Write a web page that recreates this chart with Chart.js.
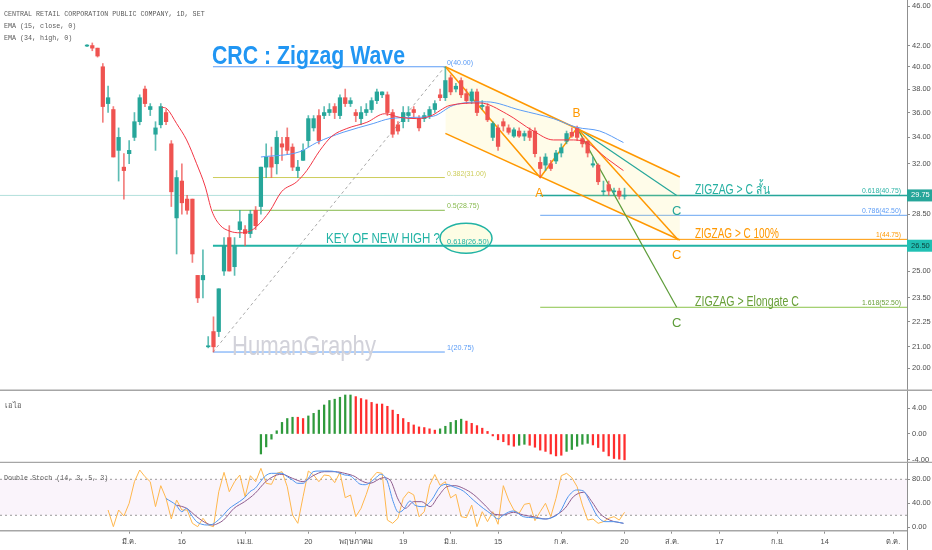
<!DOCTYPE html>
<html>
<head>
<meta charset="utf-8">
<title>CRC : Zigzag Wave</title>
<script src="https://cdn.jsdelivr.net/npm/chart.js@4.4.1/dist/chart.umd.min.js"></script>
<style>
  html, body { margin: 0; padding: 0; background: #fff; }
  #wrap { position: relative; width: 932px; height: 550px; overflow: hidden; }
  .pane { position: absolute; left: 0; width: 932px; }
</style>
</head>
<body>
<div id="wrap">
  <div class="pane" style="top:0;height:391px"><canvas id="mainChart"></canvas></div>
  <div class="pane" style="top:391px;height:72px"><canvas id="aoChart"></canvas></div>
  <div class="pane" style="top:463px;height:87px"><canvas id="stochChart"></canvas></div>
</div>
<script>
// ---------- values ----------
// one index per trading session, 0 = first bar on the left
const opens = [41.95,42.0,41.75,40.0,36.75,36.25,33.0,31.75,32.75,34.0,
  35.25,38.0,36.25,34.25,35.0,36.0,33.5,28.25,30.75,29.5,
  29.5,24.75,24.5,21.0,21.75,21.75,25.0,27.0,25.25,27.5,
  27.5,27.25,28.75,29.0,31.75,32.5,32.0,33.5,34.0,33.25,
  31.5,32.25,33.75,34.75,35.75,35.75,36.0,36.5,35.75,37.25,
  36.75,36.0,35.5,36.0,36.25,37.0,37.5,37.5,36.0,35.0,
  35.25,35.75,36.25,35.5,35.5,35.75,36.25,37.5,37.25,39.0,
  38.0,38.75,37.6,37.0,37.75,36.5,36.5,34.0,34.75,35.25,
  34.75,34.1,34.5,34.1,34.5,34.5,32.1,31.9,32.0,32.2,
  32.8,33.7,34.4,34.75,33.9,33.7,31.9,31.9,30.0,30.5,
  30.0,30.05,29.7];
const highs = [42.1,42.25,41.75,40.3,38.25,36.5,34.75,32.75,33.75,36.0,
  37.5,38.25,36.75,35.25,36.75,36.25,33.75,31.5,32.0,29.75,
  29.5,24.75,26.25,21.5,22.5,24.0,27.0,27.75,27.0,28.75,
  27.75,28.75,29.0,31.75,33.5,33.25,34.5,34.0,34.75,33.5,
  32.25,33.5,35.75,35.75,36.25,36.5,36.75,36.75,37.5,38.0,
  37.25,36.25,36.5,36.75,37.25,38.0,37.75,37.75,36.25,35.25,
  36.5,36.5,36.5,35.75,36.0,36.5,37.0,38.0,40.0,39.25,
  38.5,39.0,38.0,38.0,38.0,37.0,36.75,35.25,35.0,35.5,
  35.0,34.75,34.75,34.5,34.75,34.75,32.5,32.75,32.25,33.0,
  33.5,34.5,34.75,34.9,34.0,33.75,32.5,32.0,30.75,30.75,
  30.25,30.25,30.25];
const lows = [41.9,41.5,40.9,35.2,36.0,32.5,30.75,29.5,32.0,33.75,
  35.0,36.5,35.75,33.0,34.75,35.0,29.0,26.0,28.5,28.5,
  25.5,23.25,23.5,20.95,20.75,21.5,24.75,25.0,24.75,27.0,
  26.5,27.0,27.5,28.5,31.0,31.0,31.25,32.25,32.75,31.5,
  31.0,32.25,33.25,34.5,33.5,35.5,35.75,35.5,35.5,36.5,
  36.5,35.25,35.0,35.75,36.0,36.75,37.25,35.75,34.0,34.25,
  34.75,35.25,35.5,34.5,35.25,35.5,36.0,37.0,37.0,37.5,
  37.75,37.25,36.75,36.75,35.75,36.25,35.25,33.75,33.0,34.5,
  34.25,34.0,34.0,33.75,33.75,32.5,31.0,31.5,31.5,32.0,
  32.5,33.5,34.0,33.75,33.25,32.5,31.75,30.5,29.75,29.75,
  29.75,29.5,29.5];
const closes = [42.0,41.75,41.0,36.5,37.25,32.5,34.0,31.5,33.0,35.25,
  37.25,36.75,36.5,34.75,36.5,35.25,30.0,31.0,29.25,28.75,
  26.0,23.5,24.75,21.05,21.0,24.0,26.5,25.0,26.5,28.0,
  27.25,28.5,27.75,31.75,32.5,31.75,34.0,33.25,33.0,31.75,
  31.75,33.0,35.5,35.5,33.75,36.0,36.25,36.0,37.25,36.75,
  37.0,35.75,36.0,36.25,37.0,37.75,37.75,36.0,34.25,34.5,
  36.0,36.0,36.0,34.75,35.75,36.25,36.75,37.25,38.75,37.75,
  38.25,37.5,37.0,37.75,36.0,36.6,35.4,35.1,33.3,34.9,
  34.4,34.6,34.1,34.3,34.0,32.75,31.65,32.5,31.65,32.8,
  33.2,34.3,34.1,34.0,33.5,32.8,32.0,30.7,30.05,30.05,
  30.05,29.7,29.75];

// EMA (15, close) and EMA (34, high), sampled along the drawn lines
const ema15Idx = [14.2,15.2,17,18.9,20.8,22.4,23.7,25.2,27.1,29,30.9,32.2,34.7,36.9,39.8,41.7,44.2,46.5,49.3,53.1,
  56.5,59.4,62.6,65.1,68.9,74.6,79.6,84.7,88.5,92.3,94.8,98.6,101.8];
const ema15Val = [36.45,36.3,35.1,33.8,32.0,30.4,28.7,27.8,27.4,27.3,27.4,27.7,28.7,30.0,30.7,31.5,33.0,34.1,34.7,35.2,
  35.9,35.6,35.5,35.7,36.6,36.8,35.9,34.5,33.8,33.8,33.6,32.4,31.5];
const ema34Idx = [33,40.4,43.6,48.6,54.3,57.5,61.9,65.7,69.5,75.8,82.2,88.5,92.9,97.3,101.8];
const ema34Val = [32.5,32.9,33.6,34.4,35.1,35.5,35.6,35.7,36.6,36.9,36.2,35.5,34.8,34.5,33.6];

// histogram pane ("เอไอ"), first bar at index 33
const aoStart = 33;
const aoVals = [-3.1,-2.0,-0.8,0.5,1.8,2.4,2.6,2.6,2.4,2.8,
  3.2,3.7,4.5,5.2,5.4,5.7,6.05,6.05,5.8,5.5,
  5.3,4.9,4.65,4.65,4.3,3.7,3.05,2.4,1.8,1.4,
  1.1,1.0,0.8,0.6,0.8,1.2,1.8,2.1,2.3,2.0,
  1.65,1.3,0.9,0.4,-0.3,-0.9,-1.2,-1.7,-1.9,-1.75,
  -1.6,-1.75,-2.05,-2.5,-2.7,-3.1,-3.4,-3.3,-2.7,-2.4,
  -1.9,-1.6,-1.45,-1.7,-2.1,-2.7,-3.4,-3.8,-3.9,-4.0];
const aoGreen = [1,1,1,1,1,1,1,0,0,1, 1,1,1,1,1,1,1,1,0,0,
  0,0,0,0,0,0,0,0,0,0, 0,0,0,0,1,1,1,1,1,0,
  0,0,0,0,0,0,0,0,0,1, 1,0,0,0,0,0,0,0,1,1,
  1,1,1,0,0,0,0,0,0,0];

// Double Stoch (14, 3, 5, 3)
const stochStart = 4;
const stochRaw = [28.8,1,28.8,18.8,40,76,95.5,84.4,76,34.4,
  69.4,48.3,13.8,45.5,28.8,28.8,6.6,1,15,3.8,
  1,59.3,91.6,59.3,76,87.2,51,86,76,98.3,
  73.3,71.6,90,92.7,67.7,20.5,6.6,51,93.8,87.2,
  76,87.2,86,74.4,91.6,49.4,53.8,17.7,31.6,55,
  81.6,91.6,90,12,6.6,15,48,59,54,17.7,
  26,70,88,70,76,49,55,17.7,16,37,
  1,26,9.4,26,5,69.4,45.5,28.8,23.3,38.3,
  40,11,26,40,17.7,48.3,86,90,82.7,67.7,
  37,12,13.8,6.6,9.4,15,17.7,12,25];
const stochFastIdx = [15,16.9,18,18.9,19.8,20.8,21.8,22.8,23.8,24.9,25.9,26.9,27.9,28.9,29.9,30.9,31.9,32.9,33.9,35,
  36,37,38,39,40,41,42,42.9,44,45,46,47.1,48,48.9,49.9,50.9,51.8,52.8,54.7,55.7,
  56.9,58.1,59.1,60,61.3,62.2,63.8,65.4,67,68.3,69.5,71.4,73.3,75.2,76.8,78.05,79,80.9,82.8,84.7,
  86.6,88.2,89.7,91.3,92.9,94.2,95.4,96.7,98.3,99.9,101.8];
const stochFastVal = [48,37,26,31.6,20.5,9.4,5,3.8,5,12,20.5,30.5,37,42.7,49.4,59.3,65,76,86,90,
  90,90,84.4,78.8,73.3,73.3,81.6,92.7,93.8,93.8,93.8,92.7,90,87.2,86,78.8,72,71,81.6,88.3,
  78.8,42.7,25,28.8,43.8,37,34.4,45.5,67.7,71.6,67.7,60.5,45.5,31.6,21.6,13.8,20.5,27.2,17.7,16,
  13.8,16,25,51,62.2,60.5,42.7,20.5,9.4,9.4,6.6];
const stochSlowIdx = [17,18.9,20.8,22.7,23.9,24.9,25.9,27.9,29.9,31.9,33.9,36,37,39,41,42.9,45,47.1,48.9,50.9,
  51.8,53.7,56.2,57.5,59.1,60.4,62,63.5,65.1,66.6,68.3,69.8,71.4,73.3,75.5,77.4,79,80.9,82.8,84.7,
  87.1,88.8,90.7,92.3,94.2,95.8,97.3,99.2,101.8];
const stochSlowVal = [37,31.6,17.7,6.6,3.8,6.6,12,31.6,42.7,56.6,76,87.2,88.3,81.6,76,86,92.7,92.7,90,84.4,
  78.8,73.3,82.7,78.8,45.5,31.6,42.7,42.7,34.4,51,67.7,69.4,65,55,37,21.6,20.5,25,20.5,17.7,
  13.8,19.4,31.6,51,58.3,42.7,23.3,12,6.6];

// axes
const dateTicks = [8,18,30,42,51,60,69,78,90,102,111,120,131,140,153];
const dateLabels = ['มี.ค.','16','เม.ย.','20','พฤษภาคม','19','มิ.ย.','15','ก.ค.','20','ส.ค.','17','ก.ย.','14','ต.ค.'];
const priceTicks = [20,21,22.25,23.5,25,28.5,32,34,36,38,40,42,46];
const aoTicks = [-4,0,4];
const stochTicks = [0,40,80];
const lastClose = 29.75;
const keyLevel = 26.5;

// ---------- drawings on the price pane (index, price) ----------
const fibLeftLevels = [40.0,31.0,28.75,20.75];
const fibLeftNames = ['0(40.00)','0.382(31.00)','0.5(28.75)','1(20.75)'];
const fibLeftColors = ['#5b9cf6','#cdcd5a','#86b94c','#5b9cf6'];
const fibRightLevels = [29.75,28.42,26.89,23.0];
const fibRightNames = ['0.618(40.75)','0.786(42.50)','1(44.75)','1.618(52.50)'];
const fibRightColors = ['#26a69a','#6aa5f2','#ff9800','#8bc34a'];
const fibRightText = ['#2bb3a5','#5b9cf6','#ff9800','#689f38'];
const zigzag = [[68,40.0],[86,31.0],[93,34.75]];
const channelUpper = [[68,40.0],[112.5,31.04]];
const channelLower = [[68,34.32],[112.5,26.85]];
const legTeal = [[93,34.75],[111.9,29.75]];
const legOrange = [[93,34.75],[112.2,26.85]];
const legGreen = [[93,34.75],[111.9,23.0]];
const swingDiag = [[23.9,20.75],[67.9,40.0]];
const keyEllipse = [71.92,26.96];

const xMin = -16.51, xMax = 155.6;
const TEAL = '#26a69a', RED = '#ef5350', AXIS = '#8f8f8f', SEP = '#a6a6a6';
const LBL = "'Liberation Sans', 'DejaVu Sans', sans-serif";
const MONO = "'Liberation Mono', 'DejaVu Sans Mono', monospace";

Chart.defaults.font.family = LBL;

const notes = [
  {text:'CRC : Zigzag Wave', i:23.72, p:40.26, color:'#2196f3', size:26, width:193, weight:'600'},
  {text:'HumanGraphy', i:27.51, p:20.61, color:'#d2d2da', size:28, width:144},
  {text:'KEY OF NEW HIGH ?', i:45.35, p:26.67, color:'#22b3a5', size:14, width:114},
  {text:'0.618(26.50)', i:68.31, p:26.5, dy:-2, color:'#22b3a5', size:8, width:42},
  {text:'ZIGZAG > C สั้น', i:115.37, p:29.75, dy:-1, color:'#26b0a2', size:14, width:75},
  {text:'ZIGZAG > C 100%', i:115.37, p:26.89, dy:-1, color:'#ff9800', size:14, width:84},
  {text:'ZIGZAG > Elongate C', i:115.37, p:23.0, dy:-1, color:'#689f38', size:14, width:104},
  {text:'C', i:111.9, p:28.7, color:'#26a69a', size:13, align:'center', base:'middle'},
  {text:'C', i:111.9, p:25.94, color:'#ff9800', size:13, align:'center', base:'middle'},
  {text:'C', i:111.9, p:22.18, color:'#5d9c39', size:13, align:'center', base:'middle'},
  {text:'A', i:85.83, p:29.85, color:'#ff9800', size:12, align:'center', base:'middle'},
  {text:'B', i:92.88, p:35.88, color:'#ff9800', size:12, align:'center', base:'middle'}
];
const leftWidths = [26,39,32,27];
fibLeftLevels.forEach((lv, k) => notes.push({text:fibLeftNames[k], i:68.31, p:lv, dy:-2, color:fibLeftColors[k], size:8, width:leftWidths[k]}));
const rightWidths = [39,39,25,39];
fibRightLevels.forEach((lv, k) => notes.push({text:fibRightNames[k], i:154.46, p:lv, dy:-2, color:fibRightText[k], size:8, width:rightWidths[k], align:'right'}));

function drawNote(ctx, n, px, py) {
  ctx.save();
  ctx.font = (n.weight || '400') + ' ' + n.size + 'px ' + (n.family || LBL);
  ctx.fillStyle = n.color;
  ctx.textAlign = n.align || 'left';
  ctx.textBaseline = n.base || 'alphabetic';
  const w = ctx.measureText(n.text).width;
  ctx.translate(px, py);
  if (n.width) ctx.scale(n.width / w, 1);
  ctx.fillText(n.text, 0, 0);
  ctx.restore();
}

function seg(points, color, width, order, extra) {
  return Object.assign({
    type: 'line',
    data: points.map(p => ({x: p[0], y: p[1]})),
    borderColor: color, borderWidth: width, pointRadius: 0,
    fill: false, tension: 0, order: order
  }, extra || {});
}

const tickFont = {size: 7.5, family: LBL};
function rightAxis(extra) {
  return Object.assign({
    position: 'right',
    afterFit: s => { s.width = 25; s.paddingTop = 0; s.paddingBottom = 0; },
    ticks: {font: tickFont, color: '#4d4d4d', padding: 2, autoSkip: false, callback: v => Number(v).toFixed(2)},
    grid: {display: true, drawOnChartArea: false, drawTicks: true, tickLength: 3, tickColor: AXIS},
    border: {display: true, color: AXIS, width: 1}
  }, extra);
}
const hiddenX = {type: 'linear', min: xMin, max: xMax, offset: false, display: false};
const baseOpts = {
  responsive: true, maintainAspectRatio: false, animation: false,
  layout: {padding: 0, autoPadding: false},
  plugins: {legend: {display: false}, tooltip: {enabled: false}}
};

// ---------- price pane ----------
const bars = opens.map((_, i) => i);
const candleColors = bars.map(i => closes[i] >= opens[i] ? TEAL : RED);
const wickColors = bars.map(i => closes[i] >= opens[i] ? 'rgba(38,166,154,0.75)' : 'rgba(239,83,80,0.75)');

const mainDatasets = [
  seg(ema15Idx.map((x, k) => [x, ema15Val[k]]), '#f23645', 1, 1, {cubicInterpolationMode: 'monotone'}),
  seg(ema34Idx.map((x, k) => [x, ema34Val[k]]), '#5b9cf6', 1, 1, {cubicInterpolationMode: 'monotone'}),
  {type: 'bar', data: bars.map(i => ({x: i, y: [opens[i], closes[i]]})), backgroundColor: candleColors,
   barThickness: 3.6, minBarLength: 1, grouped: false, order: 2},
  {type: 'bar', data: bars.map(i => ({x: i, y: [lows[i], highs[i]]})), backgroundColor: wickColors,
   barThickness: 1, grouped: false, order: 3},
  seg(zigzag, '#ff9800', 1.5, 4),
  seg(channelUpper, '#ff9800', 1.5, 4),
  seg(legTeal, '#26a69a', 1.2, 4),
  seg(legOrange, '#ff9800', 1.5, 4),
  seg(legGreen, '#5d9c39', 1.2, 4),
  seg(swingDiag, '#a8a8a8', 1, 5, {borderDash: [3, 3]}),
  seg([[xMin, lastClose], [xMax, lastClose]], 'rgba(38,166,154,0.35)', 1, 6),
  seg([[23.9, keyLevel], [xMax, keyLevel]], '#22b3a5', 2, 5)
];
fibLeftLevels.forEach((lv, k) => mainDatasets.push(seg([[23.9, lv], [67.9, lv]], fibLeftColors[k], 1, 5)));
fibRightLevels.forEach((lv, k) => mainDatasets.push(seg([[86, lv], [xMax, lv]], fibRightColors[k], k === 0 ? 1.5 : 1, 5)));
const upperIndex = 5;
mainDatasets.push(seg(channelLower, '#ff9800', 1.5, 4, {fill: {target: upperIndex}, backgroundColor: 'rgba(255,236,120,0.16)'}));

const mainDecor = {
  id: 'mainDecor',
  beforeDatasetsDraw(chart) {
    const {ctx, scales: {x, y}} = chart;
    ctx.save();
    ctx.beginPath();
    ctx.ellipse(x.getPixelForValue(keyEllipse[0]), y.getPixelForValue(keyEllipse[1]), 26, 15, 0, 0, Math.PI * 2);
    ctx.fillStyle = '#fdfde4';
    ctx.fill();
    ctx.lineWidth = 1.5;
    ctx.strokeStyle = '#22b3a5';
    ctx.stroke();
    ctx.restore();
  },
  afterDatasetsDraw(chart) {
    const {ctx, scales: {x, y}} = chart;
    notes.forEach(n => drawNote(ctx, n, x.getPixelForValue(n.i), y.getPixelForValue(n.p) + (n.dy || 0)));
  },
  afterDraw(chart) {
    const {ctx, chartArea, scales: {y}} = chart;
    ['CENTRAL RETAIL CORPORATION PUBLIC COMPANY, 1D, SET', 'EMA (15, close, 0)', 'EMA (34, high, 0)']
      .forEach((t, k) => drawNote(ctx, {text: t, size: 6.7, family: MONO, color: '#5a5a5a', base: 'middle'}, 4, 14 + k * 12));
    [[lastClose, '#26a69a', '#ffffff'], [keyLevel, '#20c0b3', '#0c3f3a']].forEach(b => {
      const py = y.getPixelForValue(b[0]);
      ctx.fillStyle = b[1];
      ctx.fillRect(chartArea.right, py - 6, chart.width - chartArea.right, 12);
      drawNote(ctx, {text: b[0].toFixed(2), size: 7.5, color: b[2], base: 'middle'}, chartArea.right + 4, py);
    });
    ctx.save();
    ctx.strokeStyle = SEP;
    ctx.lineWidth = 1.5;
    ctx.beginPath();
    ctx.moveTo(0, chart.height - 0.75);
    ctx.lineTo(chart.width, chart.height - 0.75);
    ctx.stroke();
    ctx.restore();
  }
};

new Chart(document.getElementById('mainChart'), {
  type: 'bar',
  data: {datasets: mainDatasets},
  options: Object.assign({}, baseOpts, {
    scales: {
      x: hiddenX,
      y: rightAxis({
        type: 'logarithmic', min: 18.97, max: 46.64,
        afterBuildTicks: s => { s.ticks = priceTicks.map(v => ({value: v})); }
      })
    }
  }),
  plugins: [mainDecor]
});

// ---------- histogram pane ----------
const aoDecor = {
  id: 'aoDecor',
  afterDraw(chart) {
    const {ctx} = chart;
    drawNote(ctx, {text: 'เอไอ', size: 7.5, color: '#5a5a5a', base: 'middle'}, 5, 15);
    ctx.save();
    ctx.strokeStyle = SEP;
    ctx.lineWidth = 1.5;
    ctx.beginPath();
    ctx.moveTo(0, chart.height - 0.5);
    ctx.lineTo(chart.width, chart.height - 0.5);
    ctx.stroke();
    ctx.restore();
  }
};
new Chart(document.getElementById('aoChart'), {
  type: 'bar',
  data: {datasets: [{
    data: aoVals.map((v, k) => ({x: aoStart + k, y: v})),
    backgroundColor: aoGreen.map(g => g ? '#2f9a3c' : '#ff2d2d'),
    barThickness: 1.6, grouped: false
  }]},
  options: Object.assign({}, baseOpts, {
    scales: {
      x: hiddenX,
      y: rightAxis({type: 'linear', min: -4.5, max: 6.67, afterBuildTicks: s => { s.ticks = aoTicks.map(v => ({value: v})); }})
    }
  }),
  plugins: [aoDecor]
});

// ---------- stochastic pane ----------
const stochDecor = {
  id: 'stochDecor',
  afterDraw(chart) {
    const {ctx, chartArea} = chart;
    drawNote(ctx, {text: 'Double Stoch (14, 3, 5, 3)', size: 6.7, family: MONO, color: '#5a5a5a', base: 'middle'}, 4, 15);
    ctx.save();
    ctx.strokeStyle = AXIS;
    ctx.lineWidth = 1;
    ctx.beginPath();
    ctx.moveTo(chartArea.right + 0.5, chartArea.bottom);
    ctx.lineTo(chartArea.right + 0.5, chart.height);
    ctx.stroke();
    ctx.restore();
  }
};
new Chart(document.getElementById('stochChart'), {
  type: 'line',
  data: {datasets: [
    seg(stochRaw.map((v, k) => [stochStart + k, v]), '#ffb74d', 1, 3),
    seg(stochFastIdx.map((x, k) => [x, stochFastVal[k]]), '#4f95ef', 1, 1, {cubicInterpolationMode: 'monotone'}),
    seg(stochSlowIdx.map((x, k) => [x, stochSlowVal[k]]), '#8e5c8e', 1, 2, {cubicInterpolationMode: 'monotone'}),
    seg([[xMin, 80], [xMax, 80]], '#9a9a9a', 1, 5, {borderDash: [2, 3]}),
    seg([[xMin, 20], [xMax, 20]], '#9a9a9a', 1, 5, {borderDash: [2, 3], fill: {target: 3}, backgroundColor: 'rgba(156,39,176,0.05)'})
  ]},
  options: Object.assign({}, baseOpts, {
    scales: {
      x: {
        type: 'linear', min: xMin, max: xMax, offset: false, position: 'bottom',
        afterBuildTicks: s => { s.ticks = dateTicks.map(v => ({value: v})); },
        afterFit: s => { s.height = 19.3; s.paddingLeft = 0; s.paddingRight = 0; },
        ticks: {font: tickFont, color: '#4d4d4d', padding: 4, autoSkip: false, maxRotation: 0, callback: (v, i) => dateLabels[i]},
        grid: {display: true, drawOnChartArea: false, drawTicks: true, tickLength: 3, tickColor: AXIS},
        border: {display: true, color: SEP, width: 1.5}
      },
      y: rightAxis({type: 'linear', min: -5.7, max: 107.2, afterBuildTicks: s => { s.ticks = stochTicks.map(v => ({value: v})); }})
    }
  }),
  plugins: [stochDecor]
});
</script>
</body>
</html>
